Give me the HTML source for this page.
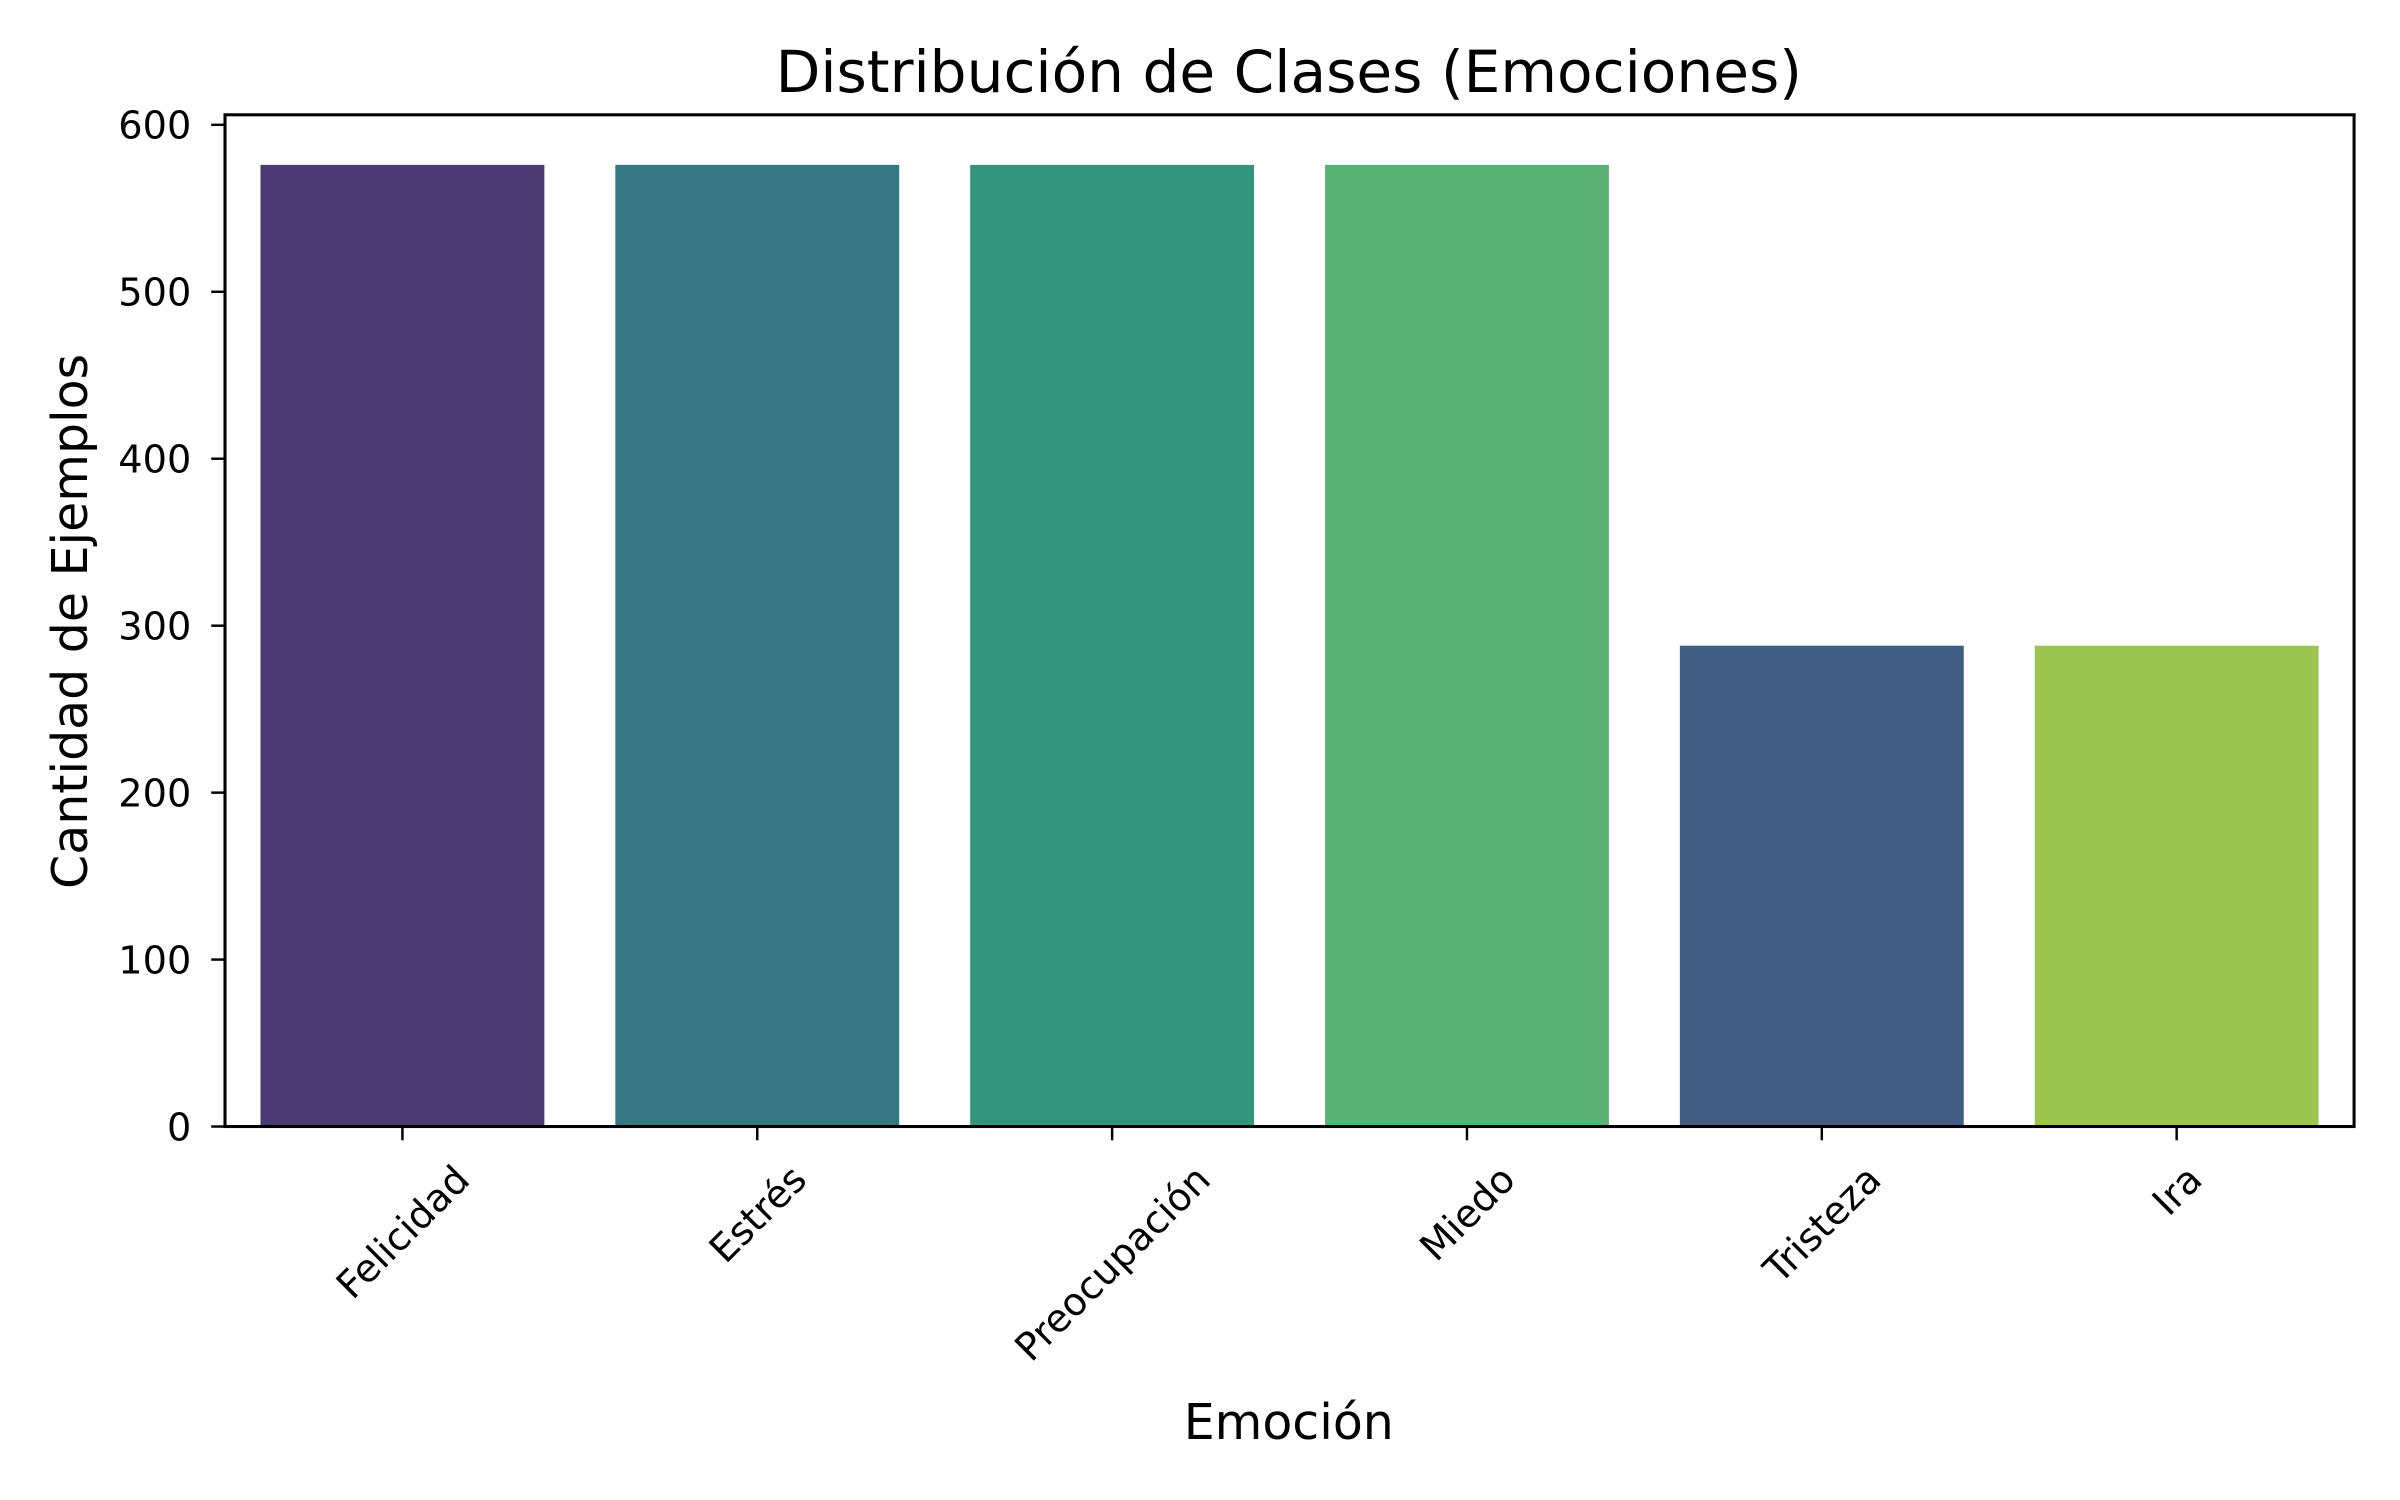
<!DOCTYPE html>
<html><head><meta charset="utf-8"><style>
html,body{margin:0;padding:0;background:#fff;}
svg{display:block;font-family:"DejaVu Sans","Liberation Sans",sans-serif;}
</style></head><body>
<svg id="chart" width="2400" height="1500" viewBox="0 0 1568 980" xmlns="http://www.w3.org/2000/svg">
<rect x="0" y="0" width="1568" height="980" fill="#fff"/>
<text x="842" y="60" font-size="38" text-anchor="middle" fill="#000">Distribución de Clases (Emociones)</text>
<text x="842" y="940" font-size="32" text-anchor="middle" fill="#000">Emoción</text>
<text transform="translate(57,406) rotate(-90)" font-size="32" text-anchor="middle" fill="#000">Cantidad de Ejemplos</text>
<g id="bars"></g><g id="yticks"></g><g id="xticks"></g>
<rect x="147" y="75" width="1391" height="661" fill="none" stroke="#000" stroke-width="2"/>
</svg>
<script>
const categories = ["Felicidad","Estrés","Preocupación","Miedo","Tristeza","Ira"];
const values = [576,576,576,576,288,288];
const colors = ["#4b3b72","#357782","#32937f","#5ab275","#415e82","#9cc54f"];
const yTicks = [0,100,200,300,400,500,600];
const NS="http://www.w3.org/2000/svg";
const L=147,R=1538,T=75,B=736,YMAX=606;
const xs=i=>L+(i+0.5)*(R-L)/categories.length;
const bw=0.8*(R-L)/categories.length;
const ys=v=>B-v/YMAX*(B-T);
function mk(tag,attrs,parent){const e=document.createElementNS(NS,tag);for(const k in attrs)e.setAttribute(k,attrs[k]);parent.appendChild(e);return e;}
const gb=document.getElementById('bars'),gy=document.getElementById('yticks'),gx=document.getElementById('xticks');
const FS=25;
categories.forEach((c,i)=>{
  const r=mk('rect',{x:xs(i)-bw/2,y:ys(values[i]),width:bw,height:B-ys(values[i]),fill:colors[i]},gb);
  
  
  const t=mk('line',{x1:xs(i),x2:xs(i),y1:B,y2:B+9,stroke:'#000','stroke-width':1.6},gx);
  
  
  const lb=mk('text',{'font-size':FS,'text-anchor':'middle',fill:'#000'},gx);
  lb.textContent=c;
  
  
  const w=lb.getComputedTextLength();
  const cy=B+20+(w+FS*1.1)*0.354;
  lb.setAttribute('transform',`translate(${xs(i)},${cy}) rotate(-45) translate(0,${FS*0.36})`);
});
yTicks.forEach(v=>{
  const t=mk('line',{x1:L-9,x2:L,y1:ys(v),y2:ys(v),stroke:'#000','stroke-width':1.6},gy);
  
  
  const lb=mk('text',{x:L-22,y:ys(v)+9,'font-size':FS,'text-anchor':'end',fill:'#000'},gy);
  lb.textContent=v;
  
  
});
</script>
</body></html>
